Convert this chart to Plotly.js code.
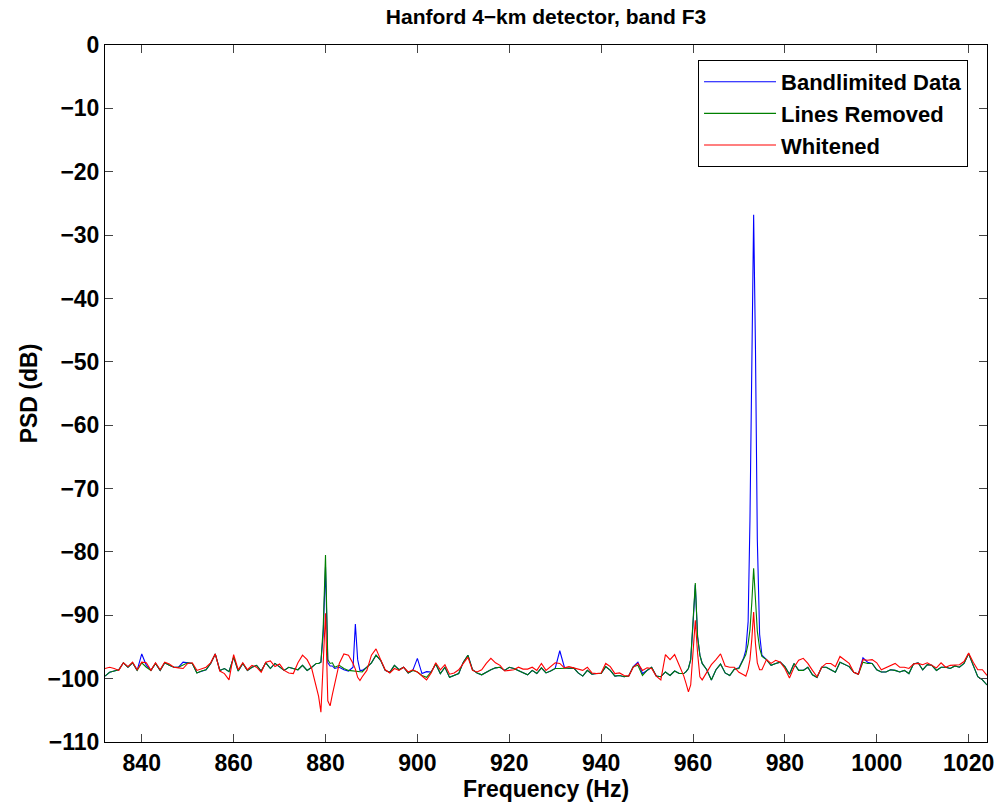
<!DOCTYPE html>
<html>
<head>
<meta charset="utf-8">
<script src="https://cdn.plot.ly/plotly-3.0.1.min.js"></script>
<style>html,body{margin:0;padding:0;background:#fff;}#chart{width:1000px;height:807px;}</style>
</head>
<body>
<div id="chart"></div>
<script>
var freq = [832,833,834,835,836,837,838,839,840,841,842,843,844,845,846,847,848,849,850,851,852,853,854,855,856,857,858,859,860,861,862,863,864,865,866,867,868,869,870,871,872,873,874,875,876,877,878,878.5,879,879.5,880,880.5,881,881.5,882,883,884,885,886,886.5,887,887.5,888,889,890,891,892,893,894,895,896,897,898,899,900,901,902,903,904,905,906,907,908,909,910,911,912,913,914,915,916,917,918,919,920,921,922,923,924,925,926,927,928,929,930,931,932,933,934,935,936,937,938,939,940,941,942,943,944,945,946,947,948,949,950,951,952,953,954,955,956,957,958,958.5,959,959.5,960,960.5,961,961.5,962,963,964,965,966,967,968,969,970,971,971.5,972,972.4,972.8,973.2,973.6,974,974.5,975,976,977,978,979,980,981,982,983,984,985,986,987,988,989,990,991,992,993,994,995,996,997,998,999,1000,1001,1002,1003,1004,1005,1006,1007,1008,1009,1010,1011,1012,1013,1014,1015,1016,1017,1018,1019,1020,1021,1022,1023,1024];

var bandlimited = [-99.6,-99.0,-98.8,-98.6,-97.5,-98.2,-97.5,-98.7,-96.1,-97.9,-98.7,-97.6,-98.7,-97.5,-97.9,-98.2,-98.2,-97.4,-97.5,-97.6,-99.1,-98.8,-98.6,-97.6,-96.1,-98.7,-98.4,-98.9,-96.6,-98.8,-97.6,-98.7,-98.2,-97.9,-98.8,-97.5,-98.4,-97.6,-98.1,-98.7,-98.2,-98.4,-98.6,-97.9,-98.7,-98.2,-97.6,-97.6,-97.4,-93.0,-82.4,-97.5,-98.0,-98.0,-98.4,-98.2,-98.6,-98.8,-98.2,-91.4,-97.0,-98.7,-98.7,-98.2,-97.5,-96.3,-97.1,-98.7,-99.0,-97.9,-98.6,-98.2,-99.1,-98.7,-96.8,-99.2,-98.9,-98.95,-97.7,-99.2,-98.2,-99.8,-99.5,-99.2,-97.4,-96.3,-98.6,-99.1,-99.4,-98.95,-98.6,-98.3,-98.2,-98.7,-98.2,-98.4,-98.7,-99.1,-99.4,-98.7,-99.2,-98.3,-99.1,-98.8,-98.4,-95.6,-98.2,-98.4,-98.3,-99.1,-99.6,-98.7,-99.3,-99.2,-99.2,-98.1,-98.7,-99.6,-99.5,-99.7,-99.6,-98.1,-97.4,-99.2,-98.7,-98.2,-99.6,-99.7,-98.95,-99.5,-98.8,-99.2,-99.2,-98.9,-98.4,-97.0,-91.5,-85.2,-93.4,-96.3,-97.6,-98.6,-100.2,-98.6,-97.7,-99.1,-99.5,-98.5,-98.3,-96.8,-95.5,-91.0,-75.0,-52.0,-26.8,-48.0,-78.0,-93.0,-96.3,-97.0,-97.9,-97.6,-97.4,-98.1,-99.3,-97.6,-98.7,-98.7,-98.2,-99.4,-99.8,-98.2,-98.2,-98.6,-99.0,-97.4,-97.7,-98.1,-99.0,-99.3,-96.7,-97.4,-97.6,-98.6,-98.95,-98.95,-98.6,-98.7,-98.95,-98.7,-99.2,-97.7,-97.5,-98.6,-97.8,-97.9,-98.7,-98.2,-98.2,-98.4,-98.0,-98.2,-97.6,-96.05,-97.9,-99.7,-100.2,-101.0];

var linesRemoved = [-99.6,-99.0,-98.8,-98.6,-97.5,-98.2,-97.5,-98.7,-97.5,-98.2,-98.7,-97.6,-98.7,-97.5,-97.9,-98.2,-98.2,-97.9,-97.5,-97.6,-99.1,-98.8,-98.6,-97.6,-96.1,-98.7,-98.4,-98.9,-96.6,-98.8,-97.6,-98.7,-98.2,-97.9,-98.8,-97.5,-98.4,-97.6,-98.1,-98.7,-98.2,-98.4,-98.6,-97.9,-98.7,-98.2,-97.6,-97.6,-97.4,-92.0,-80.5,-97.0,-97.6,-97.5,-98.2,-97.9,-98.4,-98.7,-98.8,-98.8,-98.8,-98.9,-98.95,-98.2,-97.5,-96.3,-97.1,-98.7,-99.0,-97.9,-98.6,-98.2,-99.1,-98.7,-98.95,-99.5,-99.8,-98.95,-97.7,-99.2,-98.2,-99.8,-99.5,-99.2,-97.4,-96.3,-98.6,-99.1,-99.4,-98.95,-98.6,-98.3,-98.2,-98.7,-98.2,-98.4,-98.7,-99.1,-99.4,-98.7,-99.2,-98.3,-99.1,-98.8,-98.4,-98.4,-98.4,-98.4,-98.3,-99.1,-99.6,-98.7,-99.3,-99.2,-99.2,-98.1,-98.7,-99.6,-99.5,-99.7,-99.6,-98.1,-97.9,-99.5,-98.7,-98.2,-99.6,-99.7,-98.95,-99.5,-98.8,-99.2,-99.2,-98.9,-98.4,-97.0,-91.3,-84.9,-93.4,-96.3,-97.6,-98.6,-100.2,-98.6,-97.7,-99.1,-99.5,-98.5,-98.4,-97.0,-96.2,-94.5,-92.3,-88.0,-82.6,-87.5,-92.5,-95.2,-96.5,-97.0,-97.9,-97.6,-97.4,-98.1,-99.3,-97.6,-98.7,-98.7,-98.2,-99.4,-99.8,-98.2,-98.2,-98.6,-99.0,-97.4,-97.7,-98.1,-99.0,-99.3,-97.4,-97.6,-97.6,-98.6,-98.95,-98.95,-98.6,-98.7,-98.95,-98.7,-99.2,-97.7,-97.5,-98.6,-97.8,-97.9,-98.7,-98.2,-98.2,-98.4,-98.0,-98.2,-97.6,-96.05,-97.9,-99.7,-100.2,-101.0];

var whitened = [-98.4,-98.2,-98.4,-98.7,-97.5,-98.1,-97.4,-98.6,-97.4,-97.5,-98.7,-97.5,-98.6,-97.4,-97.7,-98.2,-98.3,-98.4,-97.6,-97.5,-98.7,-98.4,-98.2,-97.5,-96.1,-98.8,-99.2,-100.2,-96.2,-98.6,-97.5,-98.6,-97.9,-98.2,-99.0,-97.4,-97.2,-98.1,-97.7,-98.7,-99.1,-99.2,-97.5,-96.3,-97.0,-98.4,-101.3,-102.8,-105.3,-97.5,-89.7,-103.5,-104.3,-102.5,-100.8,-97.6,-96.1,-96.3,-97.6,-98.5,-99.8,-100.3,-99.7,-98.7,-96.3,-95.3,-97.0,-98.6,-99.1,-98.4,-98.7,-98.2,-98.95,-98.6,-98.95,-99.5,-100.2,-99.1,-97.5,-98.6,-97.8,-99.3,-99.1,-98.6,-97.5,-96.6,-98.7,-98.95,-98.6,-97.6,-96.8,-97.5,-97.9,-98.8,-98.7,-98.6,-98.2,-98.5,-98.5,-98.2,-98.7,-97.6,-98.7,-98.1,-97.5,-97.6,-98.3,-98.1,-98.3,-98.6,-98.7,-98.2,-99.1,-99.2,-99.1,-97.6,-98.1,-99.2,-99.1,-99.5,-99.6,-98.2,-97.6,-98.7,-98.3,-98.4,-99.6,-100.2,-96.2,-97.0,-96.2,-97.9,-99.6,-100.8,-102.1,-101.0,-96.5,-90.8,-96.0,-99.7,-100.2,-98.9,-97.8,-97.0,-96.1,-98.0,-98.2,-98.2,-99.0,-99.4,-99.6,-98.5,-97.0,-93.8,-89.5,-94.5,-97.5,-98.6,-98.6,-97.0,-97.6,-97.1,-97.4,-98.4,-99.9,-98.2,-97.1,-96.8,-97.6,-98.7,-99.7,-98.2,-97.6,-97.6,-98.1,-96.5,-97.1,-97.6,-99.0,-99.3,-97.0,-97.1,-97.0,-97.5,-98.6,-98.3,-98.0,-97.6,-98.2,-98.2,-98.4,-97.7,-97.6,-97.8,-97.5,-97.9,-98.3,-97.5,-98.2,-97.9,-97.9,-97.8,-97.3,-95.95,-97.4,-98.6,-98.6,-99.5];

var seriesNames = ['Bandlimited Data', 'Lines Removed', 'Whitened'];
var seriesColors = ['#0000ff', '#008000', '#ff0000'];
var xTicks = [840, 860, 880, 900, 920, 940, 960, 980, 1000, 1020];
var yTicks = [0, -10, -20, -30, -40, -50, -60, -70, -80, -90, -100, -110];

var FONT = 'Liberation Sans, Arial, Helvetica, sans-serif';
var ys = [bandlimited, linesRemoved, whitened];
var traces = ys.map(function (y, i) {
  return {
    x: freq, y: y, type: 'scatter', mode: 'lines',
    name: seriesNames[i],
    line: {color: seriesColors[i], width: 1.1}
  };
});

var axisCommon = {
  showline: true, linecolor: '#000', linewidth: 1, mirror: 'ticks',
  ticks: 'inside', ticklen: 8, tickcolor: '#444', tickwidth: 1,
  showgrid: false, zeroline: false,
  tickfont: {family: FONT, size: 23, color: '#000', weight: 'bold'}
};

var layout = {
  width: 1000, height: 807,
  paper_bgcolor: '#fff', plot_bgcolor: '#fff',
  margin: {l: 105, r: 13, t: 45, b: 65, pad: 0},
  showlegend: true,
  title: {
    text: 'Hanford 4\u2212km detector, band F3',
    font: {family: FONT, size: 21, color: '#000', weight: 'bold'},
    x: 0.5, xref: 'paper', xanchor: 'center',
    y: 1 - 17 / 807, yref: 'container', yanchor: 'middle'
  },
  xaxis: Object.assign({}, axisCommon, {
    range: [832, 1024], tickvals: xTicks, ticktext: xTicks.map(String),
    title: {text: 'Frequency (Hz)', standoff: 4,
      font: {family: FONT, size: 23, color: '#000', weight: 'bold'}}
  }),
  yaxis: Object.assign({}, axisCommon, {
    range: [-110, 0], tickvals: yTicks,
    title: {text: 'PSD (dB)', standoff: 3,
      font: {family: FONT, size: 23, color: '#000', weight: 'bold'}}
  }),
  legend: {
    x: 0.9785, y: 0.9785, xanchor: 'right', yanchor: 'top',
    bgcolor: '#fff', bordercolor: '#000', borderwidth: 1,
    font: {family: FONT, size: 22, color: '#000', weight: 'bold'},
    itemwidth: 72, tracegroupgap: 0
  }
};

Plotly.newPlot('chart', traces, layout, {displayModeBar: false, staticPlot: true});
</script>
</body>
</html>
